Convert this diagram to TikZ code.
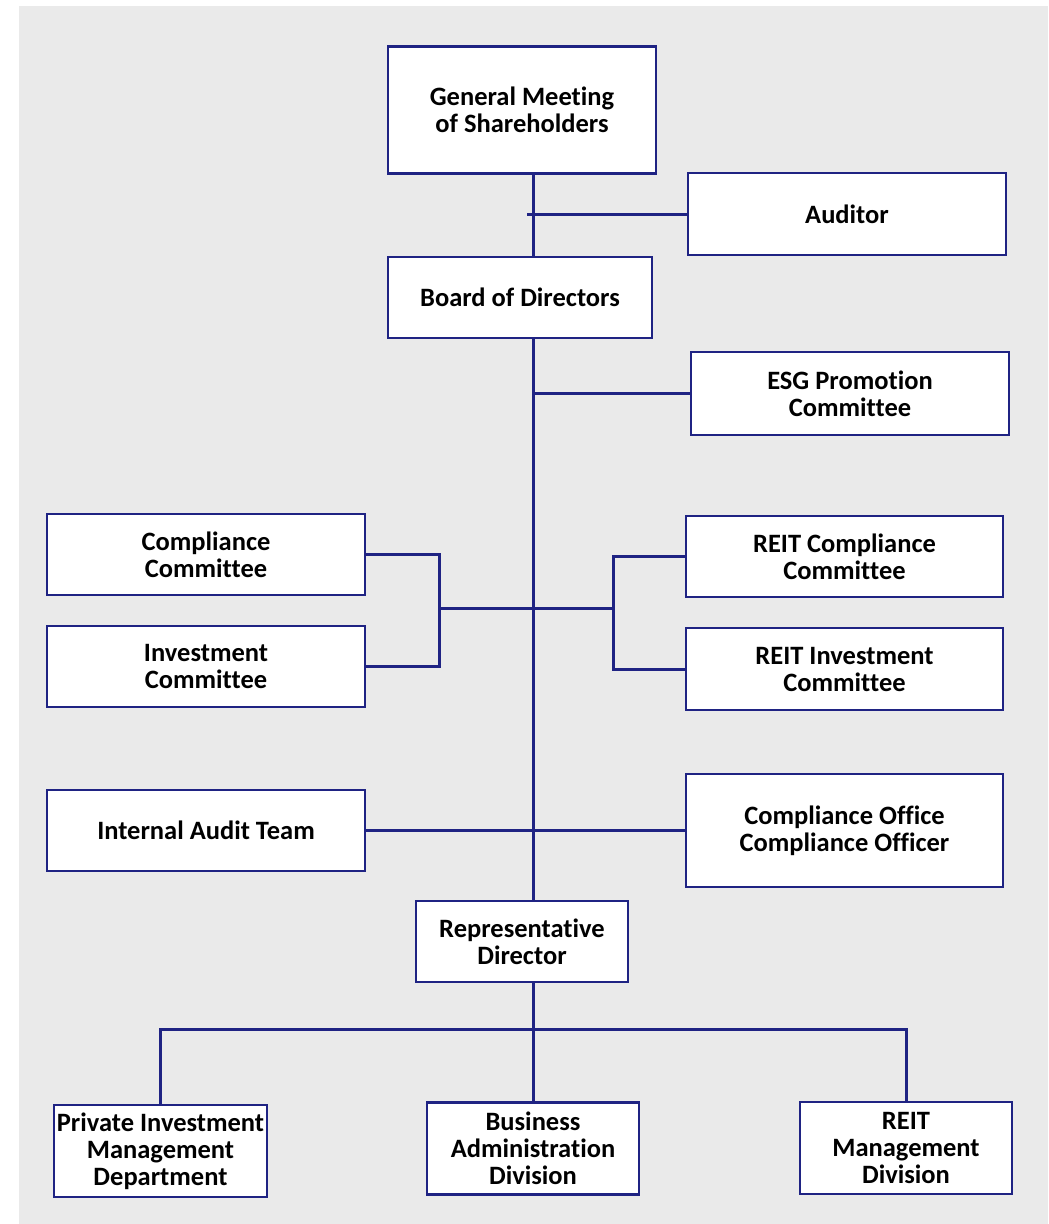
\documentclass[tikz,border=0pt]{standalone}
\usepackage{fontspec}
\setmainfont{Carlito}[Ligatures=NoCommon]
\usetikzlibrary{calc}

\definecolor{navy}{HTML}{1F2383}
\definecolor{panel}{HTML}{EAEAEA}

\begin{document}
\begin{tikzpicture}[x=1pt, y=-1pt,
    unit/.style={draw=navy, line width=2.6pt, fill=white, align=center,
      inner sep=0pt, font=\fontsize{26.5}{27}\selectfont\bfseries},
    link/.style={draw=navy, line width=3pt}]

      % canvas and background panel
      \useasboundingbox (0,0) rectangle (1049,1224);
      \fill[panel] (19,6) rectangle (1048,1224);

      % top of the chart
      \node[unit, minimum width=268, minimum height=127] (gms) at (522,110)
        {General Meeting\\ of Shareholders};
      \node[unit, minimum width=318, minimum height=82] (auditor) at (847,214) {Auditor};
      \node[unit, minimum width=264, minimum height=81] (board) at (520,297.5) {Board of Directors};
      \node[unit, minimum width=318, minimum height=83] (esg) at (850,393.5)
        {ESG Promotion\\ Committee};

      % committees
      \node[unit, minimum width=318, minimum height=81] (comp) at (206,554.5)
        {Compliance\\ Committee};
      \node[unit, minimum width=318, minimum height=81] (invest) at (206,666.5)
        {Investment\\ Committee};
      \node[unit, minimum width=317, minimum height=81] (reitcomp) at (844.5,556.5)
        {REIT Compliance\\ Committee};
      \node[unit, minimum width=317, minimum height=82] (reitinv) at (844.5,669)
        {REIT Investment\\ Committee};

      % audit and compliance office
      \node[unit, minimum width=318, minimum height=81] (iaudit) at (206,830.5) {Internal Audit Team};
      \node[unit, minimum width=317, minimum height=113] (coffice) at (844.5,830.5)
        {Compliance Office\\ Compliance Officer};

      % executive side
      \node[unit, minimum width=212, minimum height=81] (rep) at (522,941.5)
        {Representative\\ Director};
      \node[unit, minimum width=213, minimum height=92] (private) at (160.5,1151)
        {Private Investment\\ Management\\ Department};
      \node[unit, minimum width=212, minimum height=92] (business) at (533,1148.5)
        {Business\\ Administration\\ Division};
      \node[unit, minimum width=212, minimum height=92] (reitmgmt) at (906,1148)
        {REIT\\ Management\\ Division};

      \coordinate (audstub) at (527,214);
      \coordinate (lj) at (439,608);
      \coordinate (rj) at (613,608);
      \coordinate (bus) at (533,1029);

      % main spine, broken at the board box
      \draw[link] (business.north |- gms.south) -- (business.north |- board.north);
      \draw[link] (business.north |- board.south) -- (business.north |- rep.north);
      \draw[link] (audstub) -- (auditor.west);
      \draw[link] (esg.west -| business.north) -- (esg.west);

      % committee brackets
      \draw[link] (comp.east) -| (lj) |- (invest.east);
      \draw[link] (reitcomp.west) -| (rj) |- (reitinv.west);
      \draw[link] (lj) -- (rj);
      \draw[link] (iaudit.east) -- (coffice.west);

      % divisions
      \draw[link] (business.north |- rep.south) -- (business.north);
      \draw[link] (private.north) |- (bus) -| (reitmgmt.north);

    \end{tikzpicture}
\end{document}
